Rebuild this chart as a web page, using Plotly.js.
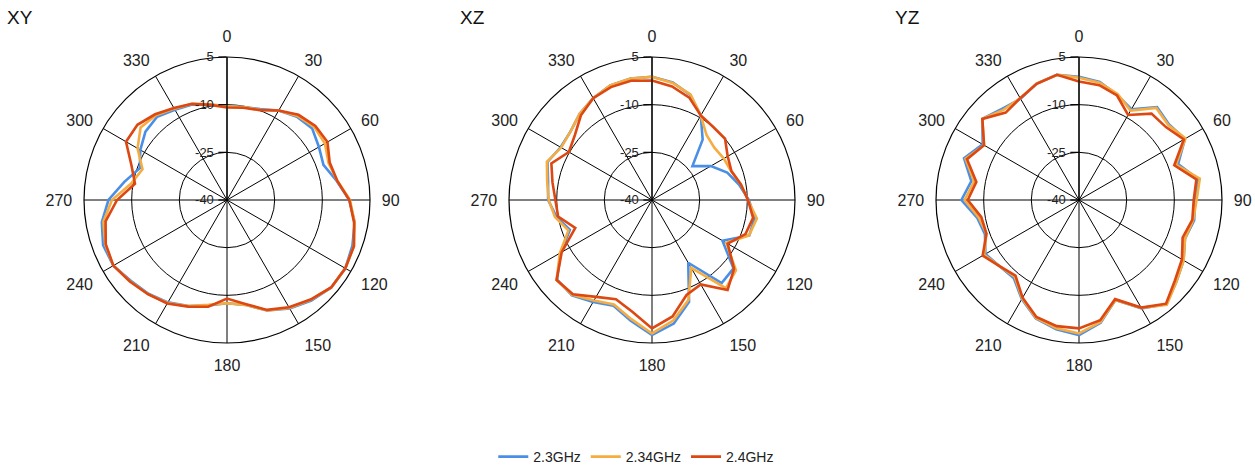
<!DOCTYPE html>
<html>
<head>
<meta charset="utf-8">
<script src="https://cdn.plot.ly/plotly-3.0.1.min.js"></script>
<style>
  html, body { margin: 0; padding: 0; background: #fff; }
  #chart { width: 1255px; height: 469px; }
</style>
</head>
<body>
<div id="chart"></div>
<script>
// Angles (degrees, clockwise from top)
const angles = [0,10,20,30,40,50,60,70,80,90,100,110,120,130,140,150,160,170,
                180,190,200,210,220,230,240,250,260,270,280,290,300,310,320,330,340,350];
const seriesNames = ["2.3GHz", "2.34GHz", "2.4GHz"];
const panelTitles = ["XY", "XZ", "YZ"];
const angularTicks = [0,30,60,90,120,150,180,210,240,270,300,330];
const radialTicks = [-40,-25,-10,5];

// XY plane
const xy_23  = [-10.5,-10.3,-9.5,-7.5,-5.8,-5.0,-6.6,-7.7,-5.0,-1.5,0.8,2.0,3.0,2.8,1.3,-0.6,-3.0,-6.5,
                -7.5,-6.3,-4.5,-2.8,-1.5,-0.5,1.3,1.5,0.0,-2.7,-7.2,-10.8,-8.5,-6.5,-5.8,-7.2,-8.0,-9.6];
const xy_234 = [-10.5,-10.3,-9.8,-7.5,-5.5,-4.2,-4.4,-6.0,-4.8,-1.3,0.8,2.5,3.0,2.8,1.0,-0.8,-3.0,-6.5,
                -7.5,-6.5,-4.5,-2.6,-1.3,-0.2,1.3,0.8,-0.5,-3.8,-9.5,-11.7,-7.5,-4.5,-5.2,-6.8,-7.8,-9.4];
const xy_24  = [-10.9,-10.5,-9.9,-7.5,-5.0,-3.7,-3.5,-5.6,-4.8,-1.5,0.6,2.5,3.0,2.8,0.9,-1.0,-3.2,-6.8,
                -9.0,-5.9,-4.3,-2.4,-1.3,-0.1,1.3,0.6,-1.2,-5.4,-10.6,-8.0,-3.3,-3.2,-4.8,-6.6,-7.8,-9.6];

// XZ plane
const xz_23  = [-1.2,-2.4,-4.8,-9.3,-15.2,-23.4,-18.6,-14.8,-12.2,-9.5,-7.2,-7.4,-14.4,-6.5,-5.9,-17.2,-5.9,-0.5,
                2.5,-1.4,-4.6,-2.9,-0.8,-1.0,-6.8,-12.5,-9.5,-7.3,-6.8,-5.0,-6.8,-6.5,-4.6,-3.0,-1.6,-1.2];
const xz_234 = [-1.2,-2.6,-4.6,-9.3,-13.3,-14.4,-13.9,-13.5,-11.6,-9.8,-6.5,-7.5,-13.0,-5.5,-3.8,-15.3,-6.5,-1.5,
                2.0,-2.0,-5.0,-3.5,-1.0,-0.8,-6.5,-12.0,-9.0,-7.5,-6.5,-4.8,-7.0,-6.5,-4.6,-3.0,-1.6,-1.2];
const xz_24  = [-2.4,-3.7,-5.7,-9.3,-10.0,-10.0,-12.5,-13.4,-11.6,-9.8,-7.7,-8.7,-12.5,-6.3,-3.0,-9.3,-8.2,-2.8,
                0.4,-4.3,-6.8,-4.8,-1.3,-0.8,-7.2,-14.3,-10.0,-9.6,-8.2,-6.3,-9.8,-8.3,-5.2,-3.0,-2.2,-1.9];

// YZ plane
const yz_23  = [-1.2,-2.3,-4.8,-7.0,-1.8,-3.0,-1.5,-6.8,-2.0,-3.5,-3.2,-4.5,-2.0,0.0,2.8,-0.6,-6.5,-0.8,
                2.5,1.3,-0.3,-4.0,-8.0,-7.5,-6.0,-8.5,-7.5,-3.0,-5.6,-1.5,-5.0,-0.3,-2.5,-3.2,-1.0,0.0];
const yz_234 = [-1.5,-2.5,-4.5,-7.5,-2.2,-3.3,-1.3,-7.5,-1.4,-3.0,-3.5,-4.5,-2.0,0.0,3.0,-0.8,-6.5,-1.0,
                2.0,1.0,-0.5,-4.2,-8.5,-7.5,-5.5,-9.0,-8.0,-4.0,-6.5,-2.0,-5.5,-0.3,-3.0,-3.0,-1.0,0.0];
const yz_24  = [-2.7,-3.3,-5.0,-9.1,-4.5,-4.3,-1.9,-8.1,-2.5,-3.9,-3.8,-5.3,-2.6,-0.6,2.6,-0.9,-6.8,-1.6,
                0.4,0.3,-0.8,-4.5,-8.9,-7.5,-5.0,-9.0,-8.8,-5.0,-7.2,-2.5,-5.5,-0.3,-4.1,-3.0,-1.1,0.0];

const panels = [
  [xy_23, xy_234, xy_24],
  [xz_23, xz_234, xz_24],
  [yz_23, yz_234, yz_24]
];
const colors = ["#4a8fe7", "#f5ad42", "#dc4712"];
const FONT = "Liberation Sans, Arial, sans-serif";

const W = 1255, H = 469;
const centersX = [227, 652, 1079];
const centerYFromTop = 200;
const R = 143;

function close(arr) { return arr.concat([arr[0]]); }

const traces = [];
panels.forEach((p, i) => {
  const sub = i === 0 ? "polar" : "polar" + (i + 1);
  p.forEach((vals, s) => {
    traces.push({
      type: "scatterpolar",
      mode: "lines",
      r: close(vals),
      theta: close(angles),
      subplot: sub,
      name: seriesNames[s],
      legendgroup: seriesNames[s],
      showlegend: i === 0,
      line: { color: colors[s], width: 2.6 },
      hoverinfo: "skip"
    });
  });
});

const layout = {
  width: W, height: H,
  margin: { l: 0, r: 0, t: 0, b: 0, autoexpand: false },
  paper_bgcolor: "#ffffff",
  font: { family: FONT, color: "#222" },
  showlegend: true,
  legend: {
    orientation: "h", x: 0.507, xanchor: "center",
    y: (H - 457) / H, yanchor: "middle",
    font: { size: 14, family: FONT, color: "#222" },
    itemwidth: 30
  },
  annotations: []
};

panelTitles.forEach((t, i) => {
  const key = i === 0 ? "polar" : "polar" + (i + 1);
  const cx = centersX[i];
  const cyb = H - centerYFromTop;
  layout[key] = {
    domain: { x: [(cx - R) / W, (cx + R) / W], y: [(cyb - R) / H, (cyb + R) / H] },
    bgcolor: "rgba(0,0,0,0)",
    radialaxis: {
      range: [-40, 5],
      tickvals: radialTicks,
      ticktext: radialTicks.map(String),
      angle: 90,
      tickangle: 90,
      side: "counterclockwise",
      showline: true, linecolor: "#000", linewidth: 1.2,
      showgrid: true, gridcolor: "#000", gridwidth: 1,
      ticks: "outside", ticklen: 8, tickcolor: "#000", tickwidth: 1.2,
      tickfont: { size: 13, family: FONT, color: "#222" }
    },
    angularaxis: {
      rotation: 90, direction: "clockwise",
      tickvals: angularTicks,
      ticktext: angularTicks.map(String),
      showline: true, linecolor: "#000", linewidth: 1.2,
      showgrid: true, gridcolor: "#000", gridwidth: 1,
      ticks: "outside", ticklen: 8, tickcolor: "rgba(0,0,0,0)",
      tickfont: { size: 16, family: FONT, color: "#222" }
    }
  };
  layout.annotations.push({
    text: t, xref: "paper", yref: "paper",
    x: [5, 458, 893][i] / W, xanchor: "left",
    y: (H - 18) / H, yanchor: "middle",
    showarrow: false,
    font: { size: 19, family: FONT, color: "#111" }
  });
});

Plotly.newPlot("chart", traces, layout, { displayModeBar: false, staticPlot: true });
</script>
</body>
</html>
